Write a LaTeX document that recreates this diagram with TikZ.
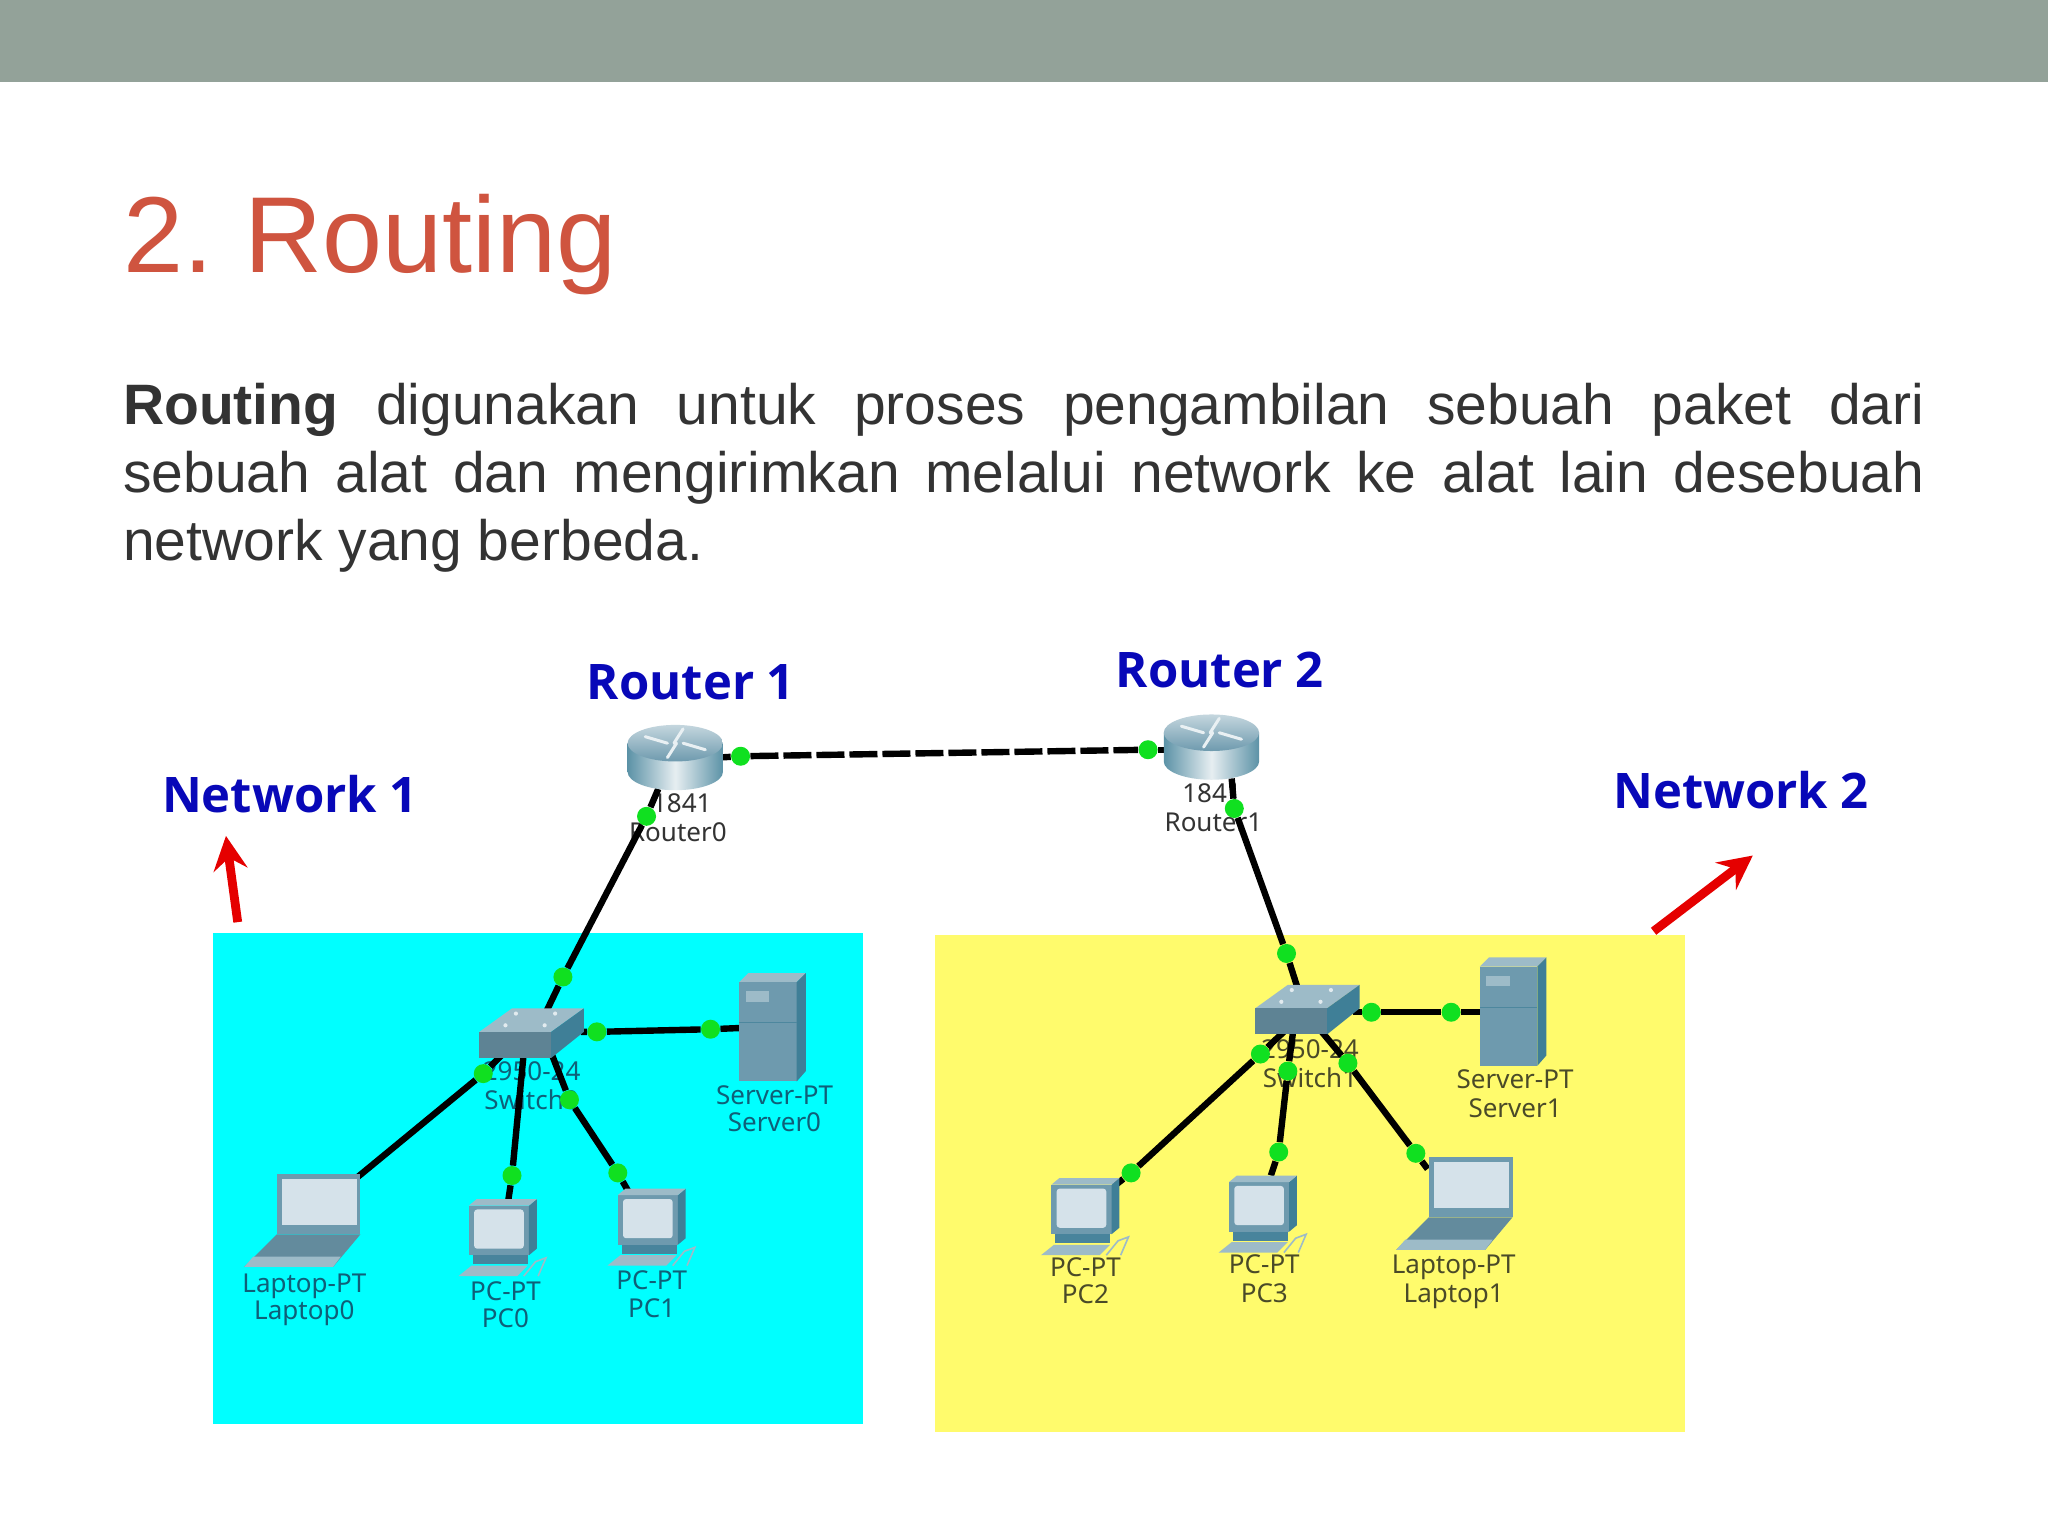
\documentclass[tikz,border=0pt]{standalone}
\usepackage{fontspec}
\setmainfont{Liberation Sans}
\newfontfamily\devfont{Noto Sans}
\newfontfamily\headfont{Open Sans}
\newfontfamily\titlefont[WordSpace=0.7]{Liberation Sans}
\usetikzlibrary{arrows.meta,calc}
\definecolor{band}{HTML}{93A299}
\definecolor{titlec}{HTML}{CF543F}
\definecolor{bodyc}{HTML}{333333}
\definecolor{zonecyan}{HTML}{00FFFF}
\definecolor{zoneyellow}{HTML}{FFFB6C}
\definecolor{headblue}{HTML}{0808B8}
\definecolor{dotgreen}{HTML}{10E020}
\definecolor{steel}{HTML}{6E9AAE}
\definecolor{steeld}{HTML}{3F7F97}
\definecolor{steell}{HTML}{9DBBC8}
\definecolor{screenc}{HTML}{D5E2EA}
\definecolor{labcyan}{HTML}{0F5F78}
\definecolor{labyellow}{HTML}{4A4A28}
\tikzset{
  zone/.style={fill=#1,draw=none},
  link/.style={line width=3.2pt,black},
  dot/.style={circle,fill=dotgreen,draw=none,minimum size=9.5pt,inner sep=0pt},
  heading/.style={font=\headfont\bfseries\fontsize{24.5}{28}\selectfont,text=headblue,inner sep=0pt},
  devlabel/.style={font=\devfont\fontsize{13}{15}\selectfont,text=#1,inner sep=0pt,text height=12.1pt,text depth=2.5pt},
  redarrow/.style={draw=red!90!black,line width=4.4pt,-{Stealth[length=17pt,width=17pt,inset=6pt]}},
  routericon/.pic={
    \path[left color=steeld!85!white,right color=steeld!85!white,middle color=white!75!steell]
      (-36.5,-11) -- (-36.5,11) arc[start angle=180,end angle=0,x radius=36.5,y radius=14] -- (36.5,-11) -- cycle;
    \path[top color=white!40!steell,bottom color=steel] (0,-11) ellipse[x radius=36.5,y radius=14];
    \draw[white!85!steel,line width=1.5pt,line cap=round]
      (-23,-16) -- (-6,-11) (23,-6) -- (6,-11) (6,-22) -- (-1,-11) (-6,0) -- (1,-11);
  },
  switchicon/.pic={
    \fill[steell] (0,18) -- (25,0) -- (80,0) -- (55,18) -- cycle;
    \fill[steel!85!black] (0,18) rectangle (55,38);
    \fill[steeld] (55,18) -- (80,0) -- (80,18) -- (55,38) -- cycle;
    \fill[white!80!steel] (28,4) circle (1.6) (58,4) circle (1.6) (20,13) circle (1.6) (50,13) circle (1.6);
  },
  servericon/.pic={
    \fill[steell] (0,7) -- (7,0) -- (51,0) -- (44,7) -- cycle;
    \fill[steel] (0,7) rectangle (44,83);
    \fill[steeld] (44,7) -- (51,0) -- (51,75) -- (44,83) -- cycle;
    \fill[steell] (5,14) rectangle (23,22);
    \draw[steeld!70!steel,line width=.5pt] (0,38) -- (44,38);
  },
  pcicon/.pic={
    \fill[steel] (1,5) rectangle (47,43);
    \fill[steeld] (47,5) -- (53,0) -- (53,38) -- (47,43) -- cycle;
    \fill[steell] (1,5) -- (7,0) -- (53,0) -- (47,5) -- cycle;
    \fill[screenc,rounded corners=1.5pt] (5,8) rectangle (43,38);
    \fill[steeld!80!steel] (4,43) rectangle (46,50);
    \fill[steell] (3,51) -- (46,51) -- (38,59) -- (-7,59) -- cycle;
    \draw[steell,line width=.8pt] (43,59) -- (52,48) -- (60,45) -- (54,59);
  },
  laptopicon/.pic={
    \fill[steel] (0,0) rectangle (64,46);
    \fill[screenc] (4,4) rectangle (61,39);
    \fill[steel!90!black] (0,46) -- (64,46) -- (43,71) -- (-25,71) -- cycle;
    \fill[steell] (-25,71) -- (-18,63) -- (49,63) -- (43,71) -- cycle;
  },
}
\begin{document}
\begin{tikzpicture}[x=0.653pt,y=-0.653pt]
\useasboundingbox (0,0) rectangle (1568,1176);
\fill[white] (0,0) rectangle (1568,1176);
\fill[band] (0,0) rectangle (1568,63);

\node[anchor=base west,inner sep=0pt,text=titlec,font=\titlefont\fontsize{54}{60}\selectfont] (title) at (94,209) {2. Routing};
\node[anchor=north west,inner sep=0pt,text width=900.6pt,align=justify,text=bodyc,font=\fontsize{28.5}{34}\selectfont] (body) at (94,293)
 {\textbf{Routing} digunakan untuk proses pengambilan sebuah paket dari\linebreak sebuah alat dan mengirimkan melalui network ke alat lain desebuah\linebreak network yang berbeda.};

\fill[zone=zonecyan] (163,714) rectangle (661,1090);
\fill[zone=zoneyellow] (716,716) rectangle (1290,1096);

% headings
\node[heading] (hr1) at (529,522) {Router 1};
\node[heading] (hr2) at (934,513) {Router 2};
\node[heading] (hn1) at (222,608) {Network 1};
\node[heading] (hn2) at (1333,605) {Network 2};

% arrows
\coordinate (a1s) at (182,706); \coordinate (a1e) at (173,640);
\coordinate (a2s) at (1266,713); \coordinate (a2e) at (1342,655);
\draw[redarrow] (a1s) -- (a1e);
\draw[redarrow] (a2s) -- (a2e);

% device labels
\node[devlabel=black!80] (l1) at (522,615) {1841};
\node[devlabel=black!80] (l2) at (519,637) {Router0};
\node[devlabel=black!80] (l3) at (928,607) {1841};
\node[devlabel=black!80] (l4) at (929,629) {Router1};
\node[devlabel=labcyan] (l5) at (407,820) {2950-24};
\node[devlabel=labcyan] (l6) at (407,842) {Switch0};
\node[devlabel=labyellow] (l7) at (1003,803) {2950-24};
\node[devlabel=labyellow] (l8) at (1003,825) {Switch1};
\node[devlabel=labcyan] (l9) at (593,838) {Server-PT};
\node[devlabel=labcyan] (l10) at (593,859) {Server0};
\node[devlabel=labyellow] (l11) at (1160,826) {Server-PT};
\node[devlabel=labyellow] (l12) at (1160,848) {Server1};
\node[devlabel=labcyan] (l13) at (233,982) {Laptop-PT};
\node[devlabel=labcyan] (l14) at (233,1003) {Laptop0};
\node[devlabel=labcyan] (l15) at (387,988) {PC-PT};
\node[devlabel=labcyan] (l16) at (387,1009) {PC0};
\node[devlabel=labcyan] (l17) at (499,980) {PC-PT};
\node[devlabel=labcyan] (l18) at (499,1001) {PC1};
\node[devlabel=labyellow] (l19) at (831,970) {PC-PT};
\node[devlabel=labyellow] (l20) at (831,991) {PC2};
\node[devlabel=labyellow] (l21) at (968,968) {PC-PT};
\node[devlabel=labyellow] (l22) at (968,990) {PC3};
\node[devlabel=labyellow] (l23) at (1113,968) {Laptop-PT};
\node[devlabel=labyellow] (l24) at (1113,990) {Laptop1};

% link end points on the devices
\coordinate (r0e) at (550,580); \coordinate (r1w) at (895,574);
\coordinate (r0s) at (504,604); \coordinate (sw0n) at (418,775);
\coordinate (sw0e) at (445,790); \coordinate (srv0) at (568,787);
\coordinate (sw0a) at (386,806); \coordinate (lap0) at (274,901);
\coordinate (sw0b) at (401,806); \coordinate (pc0) at (389,920);
\coordinate (sw0c) at (422,806); \coordinate (pc1) at (481,912);
\coordinate (r1s) at (943,596); \coordinate (sw1n) at (993,755);
\coordinate (sw1e) at (1036,775); \coordinate (srv1) at (1135,775);
\coordinate (sw1a) at (985,788); \coordinate (pc2) at (853,908);
\coordinate (sw1b) at (990,790); \coordinate (pc3) at (973,900);
\coordinate (sw1c) at (1012,790); \coordinate (lap1) at (1093,895);

% connection dots
\node[dot] (d1) at (567,579) {};
\node[dot] (d2) at (879,574) {};
\node[dot] (d3) at (495,625) {};
\node[dot] (d4) at (431,748) {};
\node[dot] (d5) at (457,790) {};
\node[dot] (d6) at (544,788) {};
\node[dot] (d7) at (370,822) {};
\node[dot] (d8) at (392,900) {};
\node[dot] (d9) at (436,842) {};
\node[dot] (d10) at (473,898) {};
\node[dot] (d11) at (945,619) {};
\node[dot] (d12) at (985,730) {};
\node[dot] (d13) at (1050,775) {};
\node[dot] (d14) at (1111,775) {};
\node[dot] (d15) at (965,807) {};
\node[dot] (d16) at (1032,814) {};
\node[dot] (d17) at (979,882) {};
\node[dot] (d18) at (866,898) {};
\node[dot] (d19) at (1084,883) {};
\node[dot] (d20) at (986,820) {};

% connectors
\draw[link] (r0e) -- (d1);
\draw[link,dash pattern=on 14pt off 2.5pt] (d1) -- (d2);
\draw[link] (d2) -- (r1w);
\draw[link] (r0s) -- (d3) -- (d4) -- (sw0n);
\draw[link] (sw0e) -- (d5) -- (d6) -- (srv0);
\draw[link] (sw0a) -- (d7) -- (lap0);
\draw[link] (sw0b) -- (d8) -- (pc0);
\draw[link] (sw0c) -- (d9) -- (d10) -- (pc1);
\draw[link] (r1s) -- (d11) -- (d12) -- (sw1n);
\draw[link] (sw1e) -- (d13) -- (d14) -- (srv1);
\draw[link] (sw1a) -- (d15) -- (d18) -- (pc2);
\draw[link] (sw1b) -- (d20) -- (d17) -- (pc3);
\draw[link] (sw1c) -- (d16) -- (d19) -- (lap1);

% devices
\pic at (517,580) {routericon};
\pic at (927.5,572) {routericon};
\pic at (367,772) {switchicon};
\pic at (961,754) {switchicon};
\pic at (566,745) {servericon};
\pic at (1133,733) {servericon};
\pic at (212,899) {laptopicon};
\pic at (1094,886) {laptopicon};
\pic at (358,918) {pcicon};
\pic at (472,910) {pcicon};
\pic at (804,902) {pcicon};
\pic at (940,900) {pcicon};
\end{tikzpicture}
\end{document}
